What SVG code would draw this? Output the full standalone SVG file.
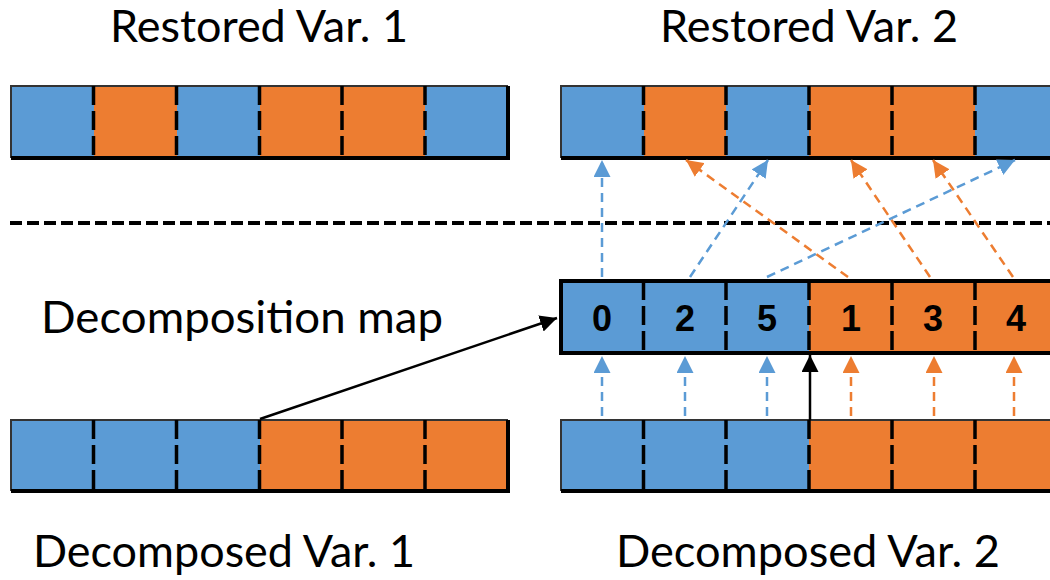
<svg xmlns="http://www.w3.org/2000/svg" width="1050" height="580" viewBox="0 0 1050 580">
<style>
.b{fill:#5B9BD5}
.o{fill:#ED7D31}
.edge-thin{fill:none;stroke:#333;stroke-width:2}
.edge-thick{stroke:#000;stroke-width:4;fill:none}
.div{stroke:#000;stroke-width:3.5;stroke-dasharray:19 6;fill:none}
.lbl{font-family:Lato,"Open Sans","Liberation Sans",sans-serif;font-size:44px;fill:#000}
.num{font-family:"Liberation Sans",Arial,sans-serif;font-weight:bold;font-size:36px;fill:#000;text-anchor:middle}
.ab{stroke:#5B9BD5;stroke-width:2.5;stroke-dasharray:9 6;fill:none}
.ao{stroke:#ED7D31;stroke-width:2.5;stroke-dasharray:9 6;fill:none}
.ak{stroke:#000;stroke-width:2.5;fill:none}
.sep{stroke:#000;stroke-width:4;stroke-dasharray:12 5;fill:none}
</style>
<defs>
<marker id="hb" markerUnits="userSpaceOnUse" markerWidth="17" markerHeight="17" refX="17" refY="8.5" orient="auto"><path d="M0,0 L17,8.5 L0,17 z" fill="#5B9BD5"/></marker>
<marker id="ho" markerUnits="userSpaceOnUse" markerWidth="17" markerHeight="17" refX="17" refY="8.5" orient="auto"><path d="M0,0 L17,8.5 L0,17 z" fill="#ED7D31"/></marker>
<marker id="hk" markerUnits="userSpaceOnUse" markerWidth="17" markerHeight="17" refX="17" refY="8.5" orient="auto"><path d="M0,0 L17,8.5 L0,17 z" fill="#000"/></marker>
</defs>

<g id="labels">
<text class="lbl" x="110" y="42" textLength="298" lengthAdjust="spacingAndGlyphs">Restored Var. 1</text>
<text class="lbl" x="660" y="42" textLength="298" lengthAdjust="spacingAndGlyphs">Restored Var. 2</text>
<text class="lbl" x="41" y="333" textLength="402" lengthAdjust="spacingAndGlyphs">Decomposition map</text>
<text class="lbl" x="33" y="567" textLength="382" lengthAdjust="spacingAndGlyphs">Decomposed Var. 1</text>
<text class="lbl" x="616" y="567" textLength="384" lengthAdjust="spacingAndGlyphs">Decomposed Var. 2</text>
</g>

<g id="restored-var-1">
<rect class="b" x="11" y="86" width="83" height="72"/>
<rect class="o" x="94" y="86" width="83" height="72"/>
<rect class="b" x="177" y="86" width="83" height="72"/>
<rect class="o" x="260" y="86" width="82" height="72"/>
<rect class="o" x="342" y="86" width="83" height="72"/>
<rect class="b" x="425" y="86" width="83" height="72"/>
<path class="edge-thin" d="M11,158 V86 H508"/>
<path class="edge-thick" d="M11,158 H508 V86"/>
<path class="div" d="M93.5,86 V158 M176.5,86 V158 M259.5,86 V158 M342,86 V158 M425,86 V158"/>
</g>

<g id="restored-var-2">
<rect class="b" x="561" y="86" width="83" height="72"/>
<rect class="o" x="644" y="86" width="82" height="72"/>
<rect class="b" x="726" y="86" width="83" height="72"/>
<rect class="o" x="809" y="86" width="83" height="72"/>
<rect class="o" x="892" y="86" width="83" height="72"/>
<rect class="b" x="975" y="86" width="83" height="72"/>
<path class="edge-thin" d="M561,158 V86 H1058"/>
<path class="edge-thick" d="M561,158 H1058"/>
<path class="div" d="M643.5,86 V158 M726,86 V158 M809,86 V158 M892,86 V158 M975,86 V158"/>
</g>

<g id="decomposition-map">
<rect class="b" x="561" y="281" width="83" height="72"/>
<rect class="b" x="644" y="281" width="82" height="72"/>
<rect class="b" x="726" y="281" width="83" height="72"/>
<rect class="o" x="809" y="281" width="83" height="72"/>
<rect class="o" x="892" y="281" width="83" height="72"/>
<rect class="o" x="975" y="281" width="83" height="72"/>
<path class="edge-thick" d="M1058,281 H561 V353 H1058"/>
<path class="div" d="M643.5,281 V353 M726,281 V353 M809,281 V353 M892,281 V353 M975,281 V353"/>
<text class="num" x="602" y="331">0</text>
<text class="num" x="685" y="331">2</text>
<text class="num" x="767" y="331">5</text>
<text class="num" x="851" y="331">1</text>
<text class="num" x="933" y="331">3</text>
<text class="num" x="1016" y="331">4</text>
</g>

<g id="decomposed-var-1">
<rect class="b" x="11" y="420" width="83" height="71"/>
<rect class="b" x="94" y="420" width="83" height="71"/>
<rect class="b" x="177" y="420" width="83" height="71"/>
<rect class="o" x="260" y="420" width="82" height="71"/>
<rect class="o" x="342" y="420" width="83" height="71"/>
<rect class="o" x="425" y="420" width="83" height="71"/>
<path class="edge-thin" d="M11,491 V420 H508"/>
<path class="edge-thick" d="M11,491 H508 V420"/>
<path class="div" d="M93.5,420 V491 M176.5,420 V491 M259.5,420 V491 M342,420 V491 M425,420 V491"/>
</g>

<g id="decomposed-var-2">
<rect class="b" x="561" y="420" width="83" height="71"/>
<rect class="b" x="644" y="420" width="82" height="71"/>
<rect class="b" x="726" y="420" width="83" height="71"/>
<rect class="o" x="809" y="420" width="83" height="71"/>
<rect class="o" x="892" y="420" width="83" height="71"/>
<rect class="o" x="975" y="420" width="83" height="71"/>
<path class="edge-thin" d="M561,491 V420 H1058"/>
<path class="edge-thick" d="M561,491 H1058"/>
<path class="div" d="M643.5,420 V491 M726,420 V491 M809,420 V491 M892,420 V491 M975,420 V491"/>
</g>

<g id="connectors">
<line class="sep" x1="10" y1="223" x2="1050" y2="223"/>
<line class="ab" x1="602" y1="277" x2="602" y2="160" marker-end="url(#hb)"/>
<line class="ao" x1="848" y1="277" x2="686" y2="160" marker-end="url(#ho)"/>
<line class="ab" x1="690" y1="277" x2="768" y2="160" marker-end="url(#hb)"/>
<line class="ao" x1="930" y1="277" x2="851" y2="160" marker-end="url(#ho)"/>
<line class="ao" x1="1013" y1="277" x2="933" y2="160" marker-end="url(#ho)"/>
<line class="ab" x1="767" y1="277" x2="1015" y2="160" marker-end="url(#hb)"/>
<line class="ab" x1="602" y1="416" x2="602" y2="356" marker-end="url(#hb)"/>
<line class="ab" x1="685" y1="416" x2="685" y2="356" marker-end="url(#hb)"/>
<line class="ab" x1="767" y1="416" x2="767" y2="356" marker-end="url(#hb)"/>
<line class="ak" x1="810" y1="420" x2="810" y2="355" marker-end="url(#hk)"/>
<line class="ao" x1="851" y1="416" x2="851" y2="356" marker-end="url(#ho)"/>
<line class="ao" x1="934" y1="416" x2="934" y2="356" marker-end="url(#ho)"/>
<line class="ao" x1="1014" y1="416" x2="1014" y2="356" marker-end="url(#ho)"/>
<line class="ak" x1="260" y1="419" x2="557" y2="318" marker-end="url(#hk)"/>
</g>
</svg>
